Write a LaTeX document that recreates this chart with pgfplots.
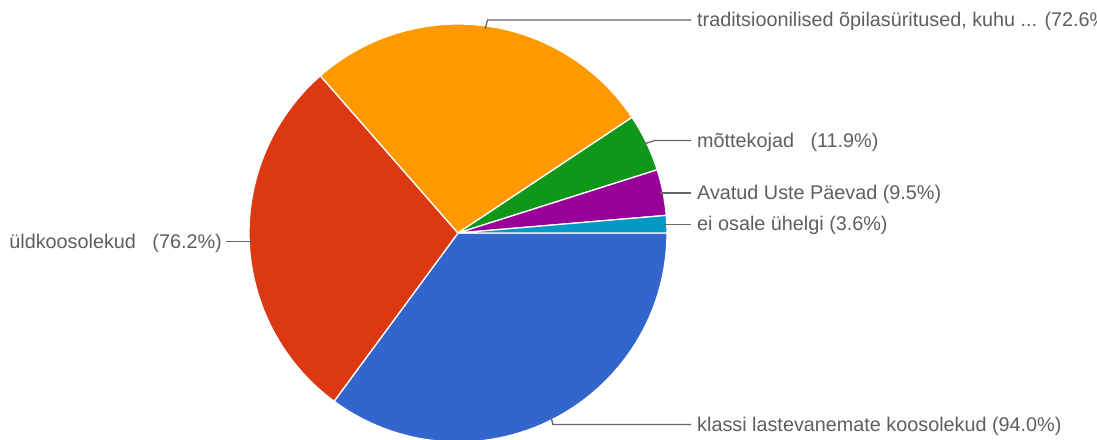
\documentclass[border=0pt]{standalone}
\usepackage{pgfplots}
\pgfplotsset{compat=1.18}
\usepackage{fontspec}
\setmainfont{Liberation Sans}
\definecolor{cA}{HTML}{3366CC}
\definecolor{cB}{HTML}{DC3912}
\definecolor{cC}{HTML}{FF9900}
\definecolor{cD}{HTML}{109618}
\definecolor{cE}{HTML}{990099}
\definecolor{cF}{HTML}{0099C6}
\definecolor{txt}{HTML}{5E5E5E}
\definecolor{lead}{HTML}{666666}
% data (percentages)
\def\vA{94.0}% klassi lastevanemate koosolekud
\def\vB{76.2}% üldkoosolekud
\def\vC{72.6}% traditsioonilised õpilasüritused
\def\vD{11.9}% mõttekojad
\def\vE{9.5}%  Avatud Uste Päevad
\def\vF{3.6}%  ei osale ühelgi
\pgfmathsetmacro\tot{\vA+\vB+\vC+\vD+\vE+\vF}
\pgfmathsetmacro\aA{-\vA/\tot*360}
\pgfmathsetmacro\aB{\aA-\vB/\tot*360}
\pgfmathsetmacro\aC{\aB-\vC/\tot*360}
\pgfmathsetmacro\aD{\aC-\vD/\tot*360}
\pgfmathsetmacro\aE{\aD-\vE/\tot*360}
\pgfmathsetmacro\aF{\aE-\vF/\tot*360}
\pgfmathsetmacro\mA{\aA/2}
\pgfmathsetmacro\mB{(\aA+\aB)/2}
\pgfmathsetmacro\mC{(\aB+\aC)/2}
\pgfmathsetmacro\mD{(\aC+\aD)/2}
\pgfmathsetmacro\mE{(\aD+\aE)/2}
\pgfmathsetmacro\mF{(\aE+\aF)/2}
\def\R{209}
\begin{document}
\begin{tikzpicture}
\begin{axis}[at={(0,0)}, anchor=south west, scale only axis,
  width=1097pt, height=439pt, xmin=0, xmax=1097, ymin=0, ymax=439,
  y dir=reverse, hide axis, clip=true]
\def\slice#1#2#3{\fill[#1, draw=white, line width=1.3pt, line join=round] (axis cs:458,233) -- ++(#2:\R pt) arc[start angle=#2, end angle=#3, radius=\R pt] -- cycle;}
\slice{cA}{0}{\aA}
\slice{cB}{\aA}{\aB}
\slice{cC}{\aB}{\aC}
\slice{cD}{\aC}{\aD}
\slice{cE}{\aD}{\aE}
\slice{cF}{\aE}{\aF}
\begin{scope}[lead, line width=1.3pt]
\draw (axis cs:{458+206*cos(\mC)},{233-206*sin(\mC)}) -- (axis cs:{458+208*cos(\mC)+2},20) -- (axis cs:691,20);
\draw (axis cs:{458+206*cos(\mD)},{233-206*sin(\mD)}) -- (axis cs:655,140.5) -- (axis cs:691,140.5);
\draw (axis cs:{458+206*cos(\mE)},{233-206*sin(\mE)}) -- (axis cs:691,{233-206*sin(\mE)});
\draw (axis cs:{458+206*cos(\mF)},{233-206*sin(\mF)}) -- (axis cs:691,{233-206*sin(\mF)});
\draw (axis cs:{458+206*cos(\mB)},{233-206*sin(\mB)}) -- (axis cs:226,{233-206*sin(\mB)});
\draw (axis cs:{458+206*cos(\mA)},{233-206*sin(\mA)}) -- (axis cs:{458+206*cos(\mA)+2},424.5) -- (axis cs:691,424.5);
\end{scope}
\begin{scope}[every node/.style={font=\fontsize{19.8}{22}\selectfont, text=txt, inner sep=0pt}]
\node[anchor=west] at (axis cs:697,21.5) {traditsioonilised õpilasüritused, kuhu ... (72.6\%)};
\node[anchor=west] at (axis cs:697,142) {mõttekojad \ \ (11.9\%)};
\node[anchor=west] at (axis cs:697,{234.5-206*sin(\mE)}) {Avatud Uste Päevad (9.5\%)};
\node[anchor=west] at (axis cs:697,{234.5-206*sin(\mF)}) {ei osale ühelgi (3.6\%)};
\node[anchor=east] at (axis cs:222,{234.5-206*sin(\mB)}) {üldkoosolekud \ \ (76.2\%)};
\node[anchor=west] at (axis cs:697,426) {klassi lastevanemate koosolekud (94.0\%)};
\end{scope}
\end{axis}
\pgfresetboundingbox
\path[use as bounding box] (0,0) rectangle (1097pt,439pt);
\end{tikzpicture}
\end{document}
